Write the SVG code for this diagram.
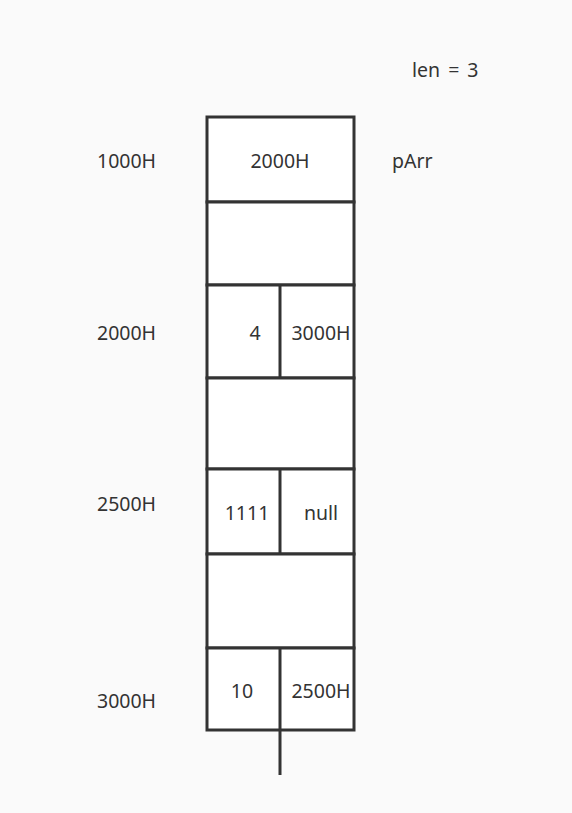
<svg xmlns="http://www.w3.org/2000/svg" width="572" height="813" viewBox="0 0 572 813">
<style>
.c{fill:#ffffff;stroke:#333333;stroke-width:3}
.l{stroke:#333333;stroke-width:3;fill:none}
text{font-family:"Noto Sans","Open Sans","DejaVu Sans",sans-serif;font-size:19.5px;fill:#333333;dominant-baseline:central}
.m{text-anchor:middle}
.s{word-spacing:3px}
</style>
<rect width="572" height="813" fill="#fafafa"/>
<g id="labels">
<text class="s" x="412" y="69">len = 3</text>
<text x="97" y="160">1000H</text>
<text x="392" y="160">pArr</text>
<text x="97" y="332">2000H</text>
<text x="97" y="503">2500H</text>
<text x="97" y="700">3000H</text>
</g>
<g id="cell1000"><rect class="c" x="207" y="117" width="147" height="85"/><text class="m" x="280" y="160">2000H</text></g>
<g id="gap1"><rect class="c" x="207" y="202" width="147" height="83"/></g>
<g id="node2000"><rect class="c" x="207" y="285" width="147" height="93"/><line class="l" x1="280" y1="285" x2="280" y2="378"/><text class="m" x="255" y="332">4</text><text class="m" x="321" y="332">3000H</text></g>
<g id="gap2"><rect class="c" x="207" y="378" width="147" height="91"/></g>
<g id="node2500"><rect class="c" x="207" y="469" width="147" height="85"/><line class="l" x1="280" y1="469" x2="280" y2="554"/><text class="m" x="247" y="512">1111</text><text class="m" x="321" y="512">null</text></g>
<g id="gap3"><rect class="c" x="207" y="554" width="147" height="94"/></g>
<g id="node3000"><rect class="c" x="207" y="648" width="147" height="82"/><line class="l" x1="280" y1="648" x2="280" y2="730"/><text class="m" x="242" y="690">10</text><text class="m" x="321" y="690">2500H</text></g>
<g id="connectors"><line class="l" x1="280" y1="730" x2="280" y2="775"/></g>
</svg>
